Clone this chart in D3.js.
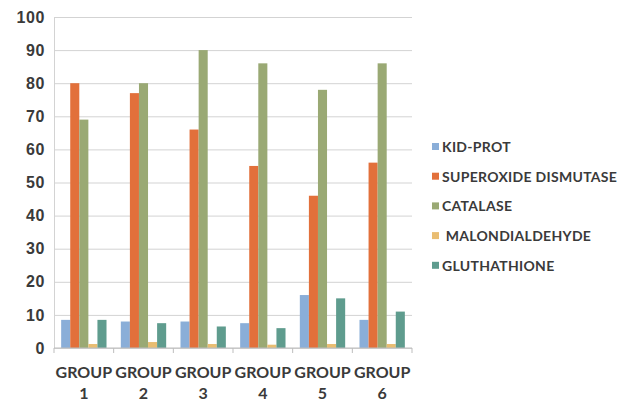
<!DOCTYPE html>
<html lang="en">
  <head>
    <title>Antioxidant markers by group</title>
    <script src="https://d3js.org/d3.v7.min.js" charset="utf-8"></script>
    <style type="text/css">
      body {
        margin: 0;
        background: white;
        font-family: "Lato", "DejaVu Sans", sans-serif;
      }
      .tick text, .legend text, .xlab {
        fill: #3a3a3a;
        font-weight: bold;
      }
    </style>
  </head>
  <body>
    <script>
      var width = 632;
      var height = 402;

      // data
      var groups = ["1", "2", "3", "4", "5", "6"];
      var seriesNames = ["KID-PROT", "SUPEROXIDE DISMUTASE", "CATALASE", " MALONDIALDEHYDE", "GLUTHATHIONE"];
      var kidProt = [8.5, 8, 8, 7.5, 16, 8.5];
      var superoxide = [80, 77, 66, 55, 46, 56];
      var catalase = [69, 80, 90, 86, 78, 86];
      var malondialdehyde = [1.2, 1.8, 1.2, 1, 1.2, 1.2];
      var gluthathione = [8.5, 7.5, 6.5, 6, 15, 11];
      var yTicks = [0, 10, 20, 30, 40, 50, 60, 70, 80, 90, 100];
      var colors = ["#8aaed8", "#e2703b", "#9aa974", "#e9bd72", "#5f9c8e"];

      var seriesValues = [kidProt, superoxide, catalase, malondialdehyde, gluthathione];

      // plot box (note: "top" is a window global, so use other names)
      var pLeft = 54, pRight = 412, pTop = 17, pBottom = 348;

      var svg = d3.select("body")
        .append("svg")
        .attr("width", width)
        .attr("height", height);

      var x0 = d3.scaleBand()
        .domain(groups)
        .range([pLeft, pRight])
        .paddingInner(0.24)
        .paddingOuter(0.12);

      var x1 = d3.scaleBand()
        .domain(d3.range(seriesNames.length))
        .range([0, x0.bandwidth()]);

      var y = d3.scaleLinear()
        .domain([0, 100])
        .range([pBottom, pTop]);

      // gridlines + y labels
      var yAxis = svg.append("g")
        .attr("transform", "translate(" + pLeft + ",0)")
        .call(d3.axisLeft(y).tickValues(yTicks).tickSize(-(pRight - pLeft)).tickPadding(9));
      yAxis.select(".domain").attr("stroke", "#d3d3d3");
      yAxis.selectAll(".tick line").attr("stroke", "#d3d3d3");
      yAxis.selectAll(".tick text")
        .attr("font-family", null)
        .style("font-size", "16px")
        .style("letter-spacing", "0.6px");

      // bars
      var bar = svg.append("g").selectAll("g")
        .data(groups)
        .enter()
        .append("g")
        .attr("transform", function(d) { return "translate(" + x0(d) + ",0)"; });

      bar.selectAll("rect")
        .data(function(d, i) { return seriesValues.map(function(s, k) { return {k: k, v: s[i]}; }); })
        .enter()
        .append("rect")
        .attr("x", function(d) { return x1(d.k); })
        .attr("width", x1.bandwidth())
        .attr("y", function(d) { return y(d.v); })
        .attr("height", function(d) { return pBottom - y(d.v); })
        .attr("fill", function(d) { return colors[d.k]; });

      // x axis with ticks between groups
      var step = x0.step();
      var xAxis = svg.append("g")
        .attr("transform", "translate(0," + pBottom + ")");
      xAxis.append("line")
        .attr("x1", pLeft).attr("x2", pRight)
        .attr("stroke", "#bdbdbd");
      xAxis.selectAll(".tk")
        .data(d3.range(groups.length + 1))
        .enter()
        .append("line")
        .attr("x1", function(i) { return pLeft + i * step; })
        .attr("x2", function(i) { return pLeft + i * step; })
        .attr("y1", 0).attr("y2", 5)
        .attr("stroke", "#bdbdbd");

      var xl = svg.append("g").selectAll("text")
        .data(groups)
        .enter()
        .append("text")
        .attr("class", "xlab")
        .attr("text-anchor", "middle")
        .style("font-size", "16px");
      xl.append("tspan")
        .attr("x", function(d) { return x0(d) + x0.bandwidth() / 2; })
        .attr("y", 378)
        .text("GROUP");
      xl.append("tspan")
        .attr("x", function(d) { return x0(d) + x0.bandwidth() / 2; })
        .attr("y", 399)
        .text(function(d) { return d; });

      // legend
      var legend = svg.append("g")
        .attr("class", "legend")
        .selectAll("g")
        .data(seriesNames)
        .enter()
        .append("g")
        .attr("transform", function(d, i) { return "translate(432," + (147 + i * 29.7) + ")"; });
      legend.append("rect")
        .attr("x", 0).attr("y", -4)
        .attr("width", 7).attr("height", 7)
        .attr("fill", function(d, i) { return colors[i]; });
      legend.append("text")
        .attr("x", 10)
        .attr("y", 5)
        .style("font-size", "14px")
        .style("letter-spacing", "0.3px")
        .style("white-space", "pre")
        .text(function(d) { return d; });
    </script>
  </body>
</html>
